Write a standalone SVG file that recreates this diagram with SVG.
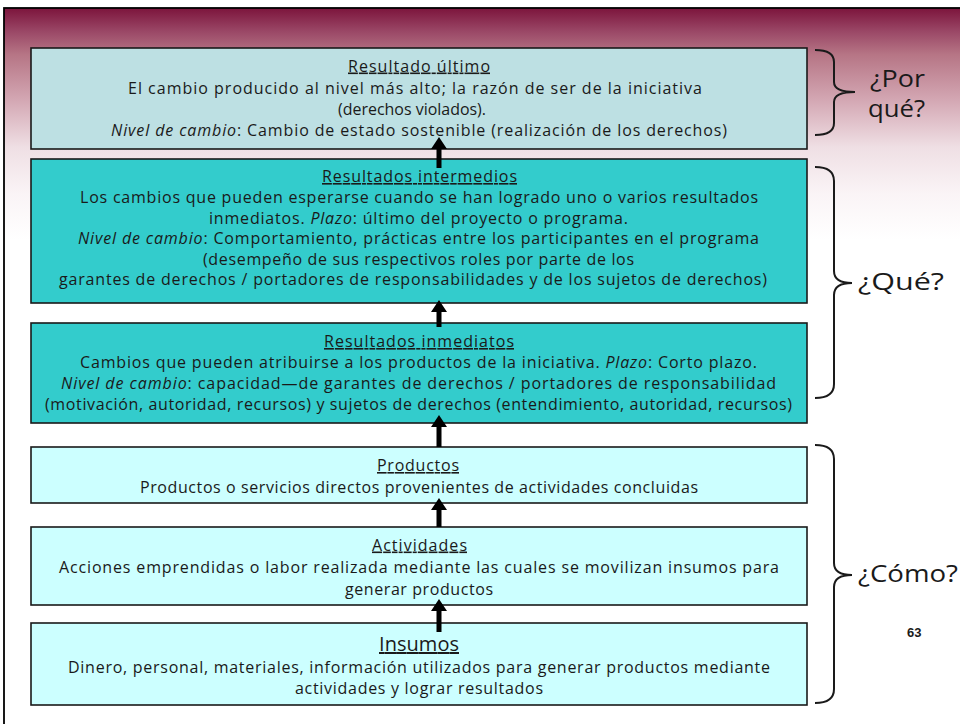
<svg xmlns="http://www.w3.org/2000/svg" width="960" height="724" viewBox="0 0 960 724">
<defs>
<linearGradient id="bg" gradientUnits="userSpaceOnUse" x1="0" y1="8" x2="0" y2="240">
<stop offset="0" stop-color="#7c143c"/>
<stop offset="0.1" stop-color="#9a4766"/>
<stop offset="0.2" stop-color="#b67585"/>
<stop offset="0.4" stop-color="#d4a8b4"/>
<stop offset="0.6" stop-color="#efdfe4"/>
<stop offset="0.8" stop-color="#faf4f6"/>
<stop offset="1" stop-color="#ffffff"/>
</linearGradient>
<style>
.box{stroke:#1a1a1a;stroke-width:1.6}
.b1{fill:#bde0e3}
.b2{fill:#33cccc}
.b3{fill:#ccffff}
text{font-family:"Open Sans","Noto Sans",sans-serif;fill:#1a1a1a}
.t{font-size:16px}
.h{font-size:16px;text-decoration:underline}
.hi{font-size:20px;text-decoration:underline}
.i{font-style:italic}
.q{font-size:23px}
.br{fill:none;stroke:#1a1a1a;stroke-width:2}
.ar{fill:#000;stroke:none}
</style>
</defs>
<rect x="0" y="0" width="960" height="724" fill="#ffffff"/>
<rect x="4" y="8" width="960" height="720" fill="url(#bg)" stroke="#000" stroke-width="1.8"/>

<g id="n1">
<rect class="box b1" x="31" y="48" width="776" height="101"/>
<text class="h" x="348" y="71.5" textLength="142">Resultado último</text>
<text class="t" x="128" y="94" textLength="574">El cambio producido al nivel más alto; la razón de ser de la iniciativa</text>
<text class="t" x="338" y="115" textLength="148" lengthAdjust="spacingAndGlyphs">(derechos violados).</text>
<text class="t" x="111" y="136" textLength="616"><tspan class="i">Nivel de cambio</tspan>: Cambio de estado sostenible (realización de los derechos)</text>
</g>

<g id="n2">
<rect class="box b2" x="31" y="159" width="776" height="144"/>
<text class="h" x="322" y="182" textLength="195">Resultados intermedios</text>
<text class="t" x="80" y="203" textLength="678">Los cambios que pueden esperarse cuando se han logrado uno o varios resultados</text>
<text class="t" x="209" y="223.5" textLength="419">inmediatos. <tspan class="i">Plazo</tspan>: último del proyecto o programa.</text>
<text class="t" x="78" y="244" textLength="681"><tspan class="i">Nivel de cambio</tspan>: Comportamiento, prácticas entre los participantes en el programa</text>
<text class="t" x="203" y="264.5" textLength="431">(desempeño de sus respectivos roles por parte de los</text>
<text class="t" x="59" y="285" textLength="708">garantes de derechos / portadores de responsabilidades y de los sujetos de derechos)</text>
</g>

<g id="n3">
<rect class="box b2" x="31" y="323" width="776" height="100"/>
<text class="h" x="324" y="347" textLength="190">Resultados inmediatos</text>
<text class="t" x="80" y="368" textLength="677">Cambios que pueden atribuirse a los productos de la iniciativa. <tspan class="i">Plazo</tspan>: Corto plazo.</text>
<text class="t" x="61" y="389" textLength="715"><tspan class="i">Nivel de cambio</tspan>: capacidad—de garantes de derechos / portadores de responsabilidad</text>
<text class="t" x="45" y="410" textLength="747">(motivación, autoridad, recursos) y sujetos de derechos (entendimiento, autoridad, recursos)</text>
</g>

<g id="n4">
<rect class="box b3" x="31" y="447" width="776" height="56"/>
<text class="h" x="377" y="471" textLength="82">Productos</text>
<text class="t" x="140" y="493" textLength="558">Productos o servicios directos provenientes de actividades concluidas</text>
</g>

<g id="n5">
<rect class="box b3" x="31" y="527" width="776" height="78"/>
<text class="h" x="372" y="550.5" textLength="95">Actividades</text>
<text class="t" x="59" y="573" textLength="720">Acciones emprendidas o labor realizada mediante las cuales se movilizan insumos para</text>
<text class="t" x="345" y="595" textLength="148">generar productos</text>
</g>

<g id="n6">
<rect class="box b3" x="31" y="623" width="776" height="82"/>
<text class="hi" x="379" y="651" textLength="80">Insumos</text>
<text class="t" x="68" y="673" textLength="702">Dinero, personal, materiales, información utilizados para generar productos mediante</text>
<text class="t" x="295" y="694" textLength="248">actividades y lograr resultados</text>
</g>

<g id="connectors">
<path class="ar" d="M436.5,168 L436.5,149 L431,149 L439,137 L447,149 L441.5,149 L441.5,168 Z"/>
<path class="ar" d="M436.5,327 L436.5,312 L431,312 L439,300 L447,312 L441.5,312 L441.5,327 Z"/>
<path class="ar" d="M436.5,447 L436.5,427 L431,427 L439,415 L447,427 L441.5,427 L441.5,447 Z"/>
<path class="ar" d="M436.5,527 L436.5,510 L431,510 L439,498 L447,510 L441.5,510 L441.5,527 Z"/>
<path class="ar" d="M436.5,632 L436.5,611 L431,611 L439,599 L447,611 L441.5,611 L441.5,632 Z"/>
</g>

<g id="brace-porque">
<path class="br" d="M815,50 Q834,50 834,62 L834,82 Q834,92 855,92 Q834,92 834,102 L834,123 Q834,135 815,135"/>
<text class="q" x="870" y="87" textLength="55" lengthAdjust="spacingAndGlyphs">¿Por</text>
<text class="q" x="868" y="117" textLength="57" lengthAdjust="spacingAndGlyphs">qué?</text>
</g>
<g id="brace-que">
<path class="br" d="M815,167 Q834,167 834,181 L834,271 Q834,283 852,283 Q834,283 834,295 L834,384 Q834,398 815,398"/>
<text class="q" x="858" y="290" textLength="86" lengthAdjust="spacingAndGlyphs">¿Qué?</text>
</g>
<g id="brace-como">
<path class="br" d="M815,445 Q834,445 834,459 L834,563 Q834,575 852,575 Q834,575 834,587 L834,689 Q834,703 815,703"/>
<text class="q" x="858" y="582" textLength="100" lengthAdjust="spacingAndGlyphs">¿Cómo?</text>
</g>
<text x="907" y="637" style="font-family:'Liberation Sans',Arial,sans-serif;font-size:13px;font-weight:bold">63</text>
</svg>
